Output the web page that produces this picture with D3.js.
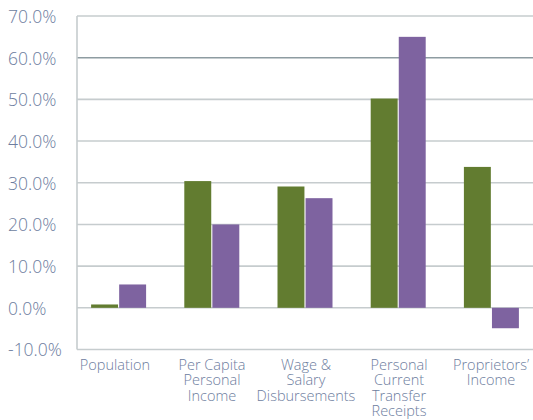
<!DOCTYPE html>
<html><head><meta charset="utf-8">
<script src="https://cdn.jsdelivr.net/npm/d3@7"></script>
<style>body{margin:0;background:#fff}svg{display:block}text{font-family:"Open Sans","Noto Sans",sans-serif}</style>
</head><body><svg id="c" width="533" height="420"></svg>
<script>
const categories = [["Population"],["Per Capita","Personal","Income"],["Wage &","Salary","Disbursements"],["Personal","Current","Transfer","Receipts"],["Proprietors’","Income"]];
const seriesA = [0.8, 30.4, 29.1, 50.2, 33.8];
const seriesB = [5.6, 20.0, 26.3, 65.0, -4.9];
const tickValues = [-10,0,10,20,30,40,50,60,70];

const svg = d3.select("#c");
const y = d3.scaleLinear().domain([-10,70]).range([349.5,16]);
const x = d3.scaleBand().domain(d3.range(5)).range([72,538]).paddingInner(0).paddingOuter(0);
const xs = d3.scaleBand().domain([0,1]).range([0,55]).paddingInner(0.04);
const axisX = 77, rightX = 533;

// gridlines
svg.append("g").selectAll("line").data(tickValues).join("line")
  .attr("x1",axisX).attr("x2",rightX)
  .attr("y1",d=>y(d)).attr("y2",d=>y(d))
  .attr("stroke",d=>d===60?"#8e9ca1":"#c6ccce").attr("stroke-width",1.6);
// y axis line
svg.append("line").attr("x1",axisX).attr("x2",axisX).attr("y1",y(70)).attr("y2",y(-10))
  .attr("stroke","#c6ccce").attr("stroke-width",1.6);

// tick labels via axis
const ya = d3.axisLeft(y).tickValues(tickValues).tickFormat(d=>d.toFixed(1)+"%").tickSize(0);
const gy = svg.append("g").attr("transform","translate(8,0)").call(ya);
gy.select(".domain").remove();
gy.selectAll("text").attr("text-anchor","start").attr("x",0).attr("dy","0.36em")
  .attr("fill","#6d7d9e").style("font-size","17.5px").style("font-weight","300");

// bars
const colors = ["#627c30","#7e63a0"];
[seriesA, seriesB].forEach((s,si)=>{
  svg.append("g").selectAll("rect").data(s).join("rect")
    .attr("x",(d,i)=>x(i)+x.bandwidth()/2-27.5+xs(si))
    .attr("width",xs.bandwidth())
    .attr("y",d=>y(Math.max(0,d)))
    .attr("height",d=>Math.abs(y(d)-y(0)))
    .attr("fill",colors[si]);
});

// category labels
const gl = svg.append("g");
const labelX = [115, 212, 306, 399, 491];
categories.forEach((lines,i)=>{
  const cx = x(i)+x.bandwidth()/2 + (labelX[i]-(x(i)+x.bandwidth()/2));
  const t = gl.append("text").attr("text-anchor","middle").attr("fill","#6d7d9e").style("font-size","14.5px").style("font-weight","300")
    .attr("x",cx).attr("y",370);
  lines.forEach((l,j)=>t.append("tspan").attr("x",cx).attr("dy",j?15.3:0).text(l));
});
</script></body></html>
